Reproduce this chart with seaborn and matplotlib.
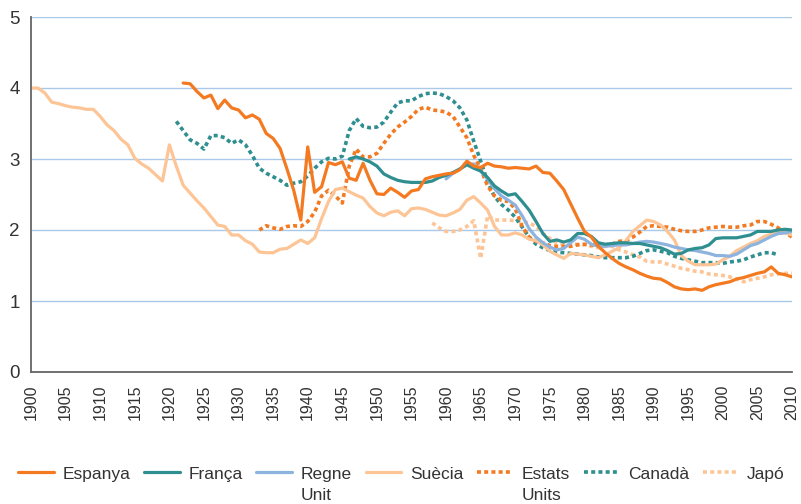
import numpy as np
import pandas as pd
import matplotlib.pyplot as plt
import seaborn as sns

# total fertility rate
espanya_start = 1922
espanya = [4.07, 4.06, 3.95, 3.86, 3.90, 3.71, 3.83, 3.72,
           3.69, 3.58, 3.62, 3.56, 3.36, 3.29, 3.15, 2.86, 2.55, 2.14,
           3.17, 2.53, 2.61, 2.95, 2.92, 2.96, 2.73, 2.70, 2.94, 2.70,
           2.51, 2.50, 2.59, 2.53, 2.46, 2.55, 2.57, 2.72, 2.75, 2.77,
           2.79, 2.80, 2.85, 2.97, 2.90, 2.88, 2.94, 2.90, 2.89, 2.87,
           2.88, 2.87, 2.86, 2.90, 2.81, 2.80, 2.69, 2.57, 2.37, 2.17,
           1.98, 1.90, 1.77, 1.68, 1.60, 1.53, 1.48, 1.44, 1.39, 1.35,
           1.32, 1.31, 1.26, 1.20, 1.17, 1.16, 1.17, 1.15, 1.20, 1.23,
           1.25, 1.27, 1.31, 1.33, 1.36, 1.39, 1.41, 1.48, 1.39, 1.37, 1.34]

franca_start = 1946
franca = [3.00, 3.03, 3.00, 2.96,
          2.90, 2.79, 2.74, 2.70, 2.68, 2.67, 2.67, 2.67, 2.69, 2.74,
          2.77, 2.81, 2.86, 2.92, 2.87, 2.83, 2.74, 2.62, 2.55, 2.49,
          2.51, 2.40, 2.28, 2.12, 1.95, 1.84, 1.86, 1.83, 1.86, 1.95,
          1.95, 1.91, 1.82, 1.80, 1.81, 1.82, 1.82, 1.81, 1.81, 1.79,
          1.77, 1.75, 1.71, 1.66, 1.67, 1.72, 1.74, 1.75, 1.79, 1.88,
          1.89, 1.89, 1.89, 1.91, 1.93, 1.98, 1.98, 1.98, 2.00, 2.01, 2.00]

regne_unit_start = 1960
regne_unit = [2.72, 2.80, 2.86, 2.92, 2.93, 2.83, 2.72, 2.58, 2.48, 2.42,
              2.35, 2.20, 2.02, 1.90, 1.82, 1.76, 1.72, 1.74, 1.82, 1.90,
              1.87, 1.80, 1.77, 1.77, 1.78, 1.79, 1.79, 1.81, 1.83, 1.84,
              1.83, 1.81, 1.79, 1.76, 1.74, 1.72, 1.71, 1.69, 1.67, 1.64,
              1.64, 1.63, 1.66, 1.72, 1.78, 1.81, 1.86, 1.91, 1.95, 1.96, 1.98]

suecia_start = 1900
suecia = [4.00, 4.00, 3.93, 3.80, 3.78, 3.75, 3.73, 3.72, 3.70, 3.70,
          3.60, 3.48, 3.40, 3.28, 3.20, 3.01, 2.93, 2.87, 2.78, 2.69,
          3.20, 2.90, 2.63, 2.52, 2.41, 2.31, 2.19, 2.07, 2.05, 1.93,
          1.93, 1.85, 1.80, 1.69, 1.68, 1.68, 1.73, 1.74, 1.80, 1.86,
          1.81, 1.89, 2.16, 2.40, 2.57, 2.59, 2.54, 2.49, 2.45, 2.33,
          2.24, 2.20, 2.25, 2.27, 2.20, 2.30, 2.31, 2.29, 2.25, 2.21,
          2.20, 2.24, 2.29, 2.42, 2.47, 2.38, 2.28, 2.05, 1.93, 1.93,
          1.96, 1.93, 1.87, 1.85, 1.79, 1.70, 1.65, 1.60, 1.67, 1.66,
          1.65, 1.63, 1.61, 1.65, 1.70, 1.75, 1.85, 1.98, 2.06, 2.14,
          2.12, 2.07, 1.98, 1.86, 1.64, 1.56, 1.51, 1.51, 1.51, 1.52,
          1.58, 1.63, 1.71, 1.76, 1.81, 1.85, 1.91, 1.94, 1.96, 1.96, 1.93]

estats_units_start = 1933
estats_units = [2.00, 2.06, 2.03, 2.01, 2.05, 2.06, 2.05,
                2.12, 2.25, 2.48, 2.56, 2.48, 2.38, 2.90, 3.14, 3.03, 3.03,
                3.08, 3.22, 3.35, 3.45, 3.52, 3.60, 3.70, 3.73, 3.69, 3.68,
                3.66, 3.60, 3.45, 3.30, 3.05, 2.86, 2.62, 2.48, 2.42, 2.40,
                2.30, 2.05, 1.90, 1.84, 1.82, 1.78, 1.77, 1.77, 1.77, 1.79,
                1.80, 1.79, 1.79, 1.79, 1.80, 1.84, 1.85, 1.90, 1.97, 2.05,
                2.06, 2.05, 2.04, 2.01, 1.99, 1.98, 1.98, 2.00, 2.03, 2.04,
                2.05, 2.04, 2.04, 2.06, 2.07, 2.12, 2.12, 2.08, 2.03, 1.97, 1.90]

canada_start = 1921
canada = [3.53, 3.40, 3.27, 3.22, 3.14, 3.33, 3.33, 3.30, 3.22,
          3.27, 3.20, 3.05, 2.87, 2.80, 2.75, 2.70, 2.63, 2.66, 2.68,
          2.76, 2.87, 2.96, 3.01, 3.00, 3.04, 3.40, 3.57, 3.46, 3.44,
          3.45, 3.52, 3.66, 3.79, 3.82, 3.82, 3.88, 3.92, 3.93, 3.92,
          3.88, 3.82, 3.72, 3.55, 3.25, 2.97, 2.68, 2.47, 2.36, 2.28,
          2.18, 2.04, 1.90, 1.80, 1.75, 1.71, 1.69, 1.68, 1.67, 1.66,
          1.65, 1.64, 1.62, 1.61, 1.61, 1.61, 1.61, 1.63, 1.67, 1.71,
          1.72, 1.70, 1.68, 1.63, 1.60, 1.58, 1.56, 1.54, 1.54, 1.54,
          1.53, 1.55, 1.56, 1.58, 1.62, 1.65, 1.68, 1.68, 1.65]

japo_start = 1958
japo = [2.10, 2.03,
        1.98, 1.98, 2.00, 2.05, 2.13, 1.60, 2.20, 2.14, 2.14, 2.14,
        2.13, 2.12, 2.10, 2.05, 1.95, 1.88, 1.82, 1.80, 1.80, 1.80,
        1.79, 1.77, 1.75, 1.77, 1.77, 1.72, 1.69, 1.65, 1.62, 1.56,
        1.55, 1.55, 1.52, 1.49, 1.46, 1.44, 1.42, 1.41, 1.38, 1.37,
        1.36, 1.34, 1.31, 1.27, 1.30, 1.32, 1.34, 1.37, 1.38, 1.39, 1.39]

orange = "#f47a22"
teal = "#2f8f90"
blue = "#8db4de"
peach = "#fdc596"

# legend order
series = [
    ("Espanya", espanya_start, espanya, orange, "-"),
    ("França", franca_start, franca, teal, "-"),
    ("Regne", regne_unit_start, regne_unit, blue, "-"),
    ("Suècia", suecia_start, suecia, peach, "-"),
    ("Estats", estats_units_start, estats_units, orange, (0, (1.1, 0.9))),
    ("Canadà", canada_start, canada, teal, (0, (1.1, 0.9))),
    ("Japó", japo_start, japo, peach, (0, (1.1, 0.9))),
]

sns.set_style("white")
plt.rcParams["font.family"] = ["Liberation Sans", "DejaVu Sans"]

fig = plt.figure(figsize=(8.01, 5.04), dpi=100)
ax = fig.add_axes([31 / 801, 1 - 372 / 504, 761 / 801, 355 / 504])

# draw back to front so Espanya sits on top
for name, start, vals, col, ls in reversed(series):
    df = pd.DataFrame({"year": range(start, start + len(vals)), "tfr": vals})
    lw = 2.3 if ls == "-" else 2.6
    sns.lineplot(data=df, x="year", y="tfr", ax=ax, color=col, lw=lw,
                 linestyle=ls, label=name)

ax.set_xlim(1900, 2010)
ax.set_ylim(0, 5)
ax.set_xticks(range(1900, 2011, 5))
ax.set_yticks(range(0, 6))
ax.set_xlabel("")
ax.set_ylabel("")

ax.grid(axis="y", color="#a9c9e8", lw=1)
ax.grid(axis="x", visible=False)
ax.set_axisbelow(True)
for s in ["top", "right"]:
    ax.spines[s].set_visible(False)
for s in ["left", "bottom"]:
    ax.spines[s].set_color("#666666")
    ax.spines[s].set_linewidth(1.3)

ax.tick_params(axis="x", direction="in", length=7, width=1.1, color="#666666",
               labelsize=11.5, labelrotation=90, labelcolor="#333333", pad=9)
ax.tick_params(axis="y", length=0, labelsize=13.5, labelcolor="#333333", pad=8)
ax.get_legend().remove()

handles, labels = ax.get_legend_handles_labels()
order = [n for n, *_ in series]
hmap = dict(zip(labels, handles))
leg = fig.legend([hmap[n] for n in order], order, ncol=7, frameon=False,
                 loc="center left", bbox_to_anchor=(18 / 801, 1 - 474 / 504),
                 fontsize=12.5, handlelength=2.05, handletextpad=0.5,
                 columnspacing=0.8, borderpad=0, borderaxespad=0)
for t in leg.get_texts():
    t.set_color("#333333")

# second lines of the two wrapped labels
fig.canvas.draw()
for t in leg.get_texts():
    extra = {"Regne": "Unit", "Estats": "Units"}.get(t.get_text())
    if extra:
        bb = t.get_window_extent()
        fig.text(bb.x0 / 801, (bb.y0 + bb.y1) / 2 / 504 - 21 / 504, extra,
                 fontsize=12.5, color="#333333", va="center", ha="left")

plt.savefig("out.png", dpi=100)
